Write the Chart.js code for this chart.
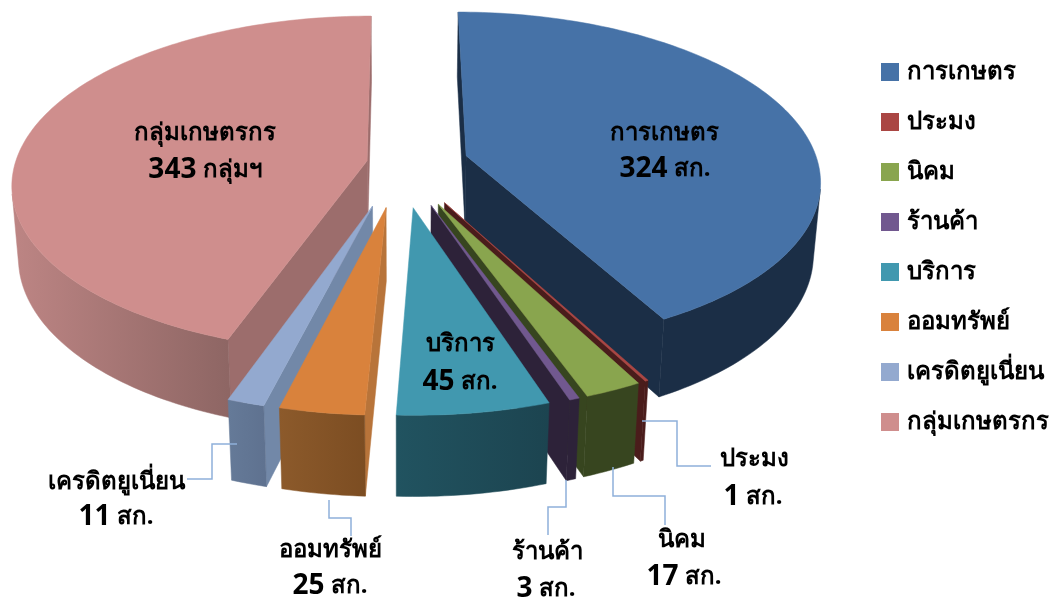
<!DOCTYPE html>
<html>
<head>
<meta charset="utf-8">
<style>
  html, body { margin: 0; padding: 0; background: #fff; }
  canvas { display: block; }
</style>
<script src="https://cdn.jsdelivr.net/npm/chart.js@4/dist/chart.umd.min.js"></script>
</head>
<body>
<canvas id="myChart" width="1055" height="598"></canvas>
<script>
// DATA
const categories = ["การเกษตร", "ประมง", "นิคม", "ร้านค้า", "บริการ", "ออมทรัพย์", "เครดิตยูเนี่ยน", "กลุ่มเกษตรกร"];
const values = [324, 1, 17, 3, 45, 25, 11, 343];
const units = ["สก.", "สก.", "สก.", "สก.", "สก.", "สก.", "สก.", "กลุ่มฯ"];

// how far each slice is pulled out, in pie radii
const explode = [0.195, 0.26, 0.26, 0.26, 0.26, 0.26, 0.26, 0.095];

// COLOURS
const topColors  = ['#4672a7', '#aa4643', '#89a54e', '#71588f', '#4198af', '#d9823c', '#93a9cf', '#cf8e8d'];
const sideColors = ['#1b2e46', '#4a1c1b', '#37451f', '#2d2239', '#1f4c59', '#b8743a', '#7288a8', '#9c6d6c'];
const rimFrom    = ['#1b2e46', '#4a1c1b', '#37451f', '#2d2239', '#215360', '#8c5a2b', '#657a98', '#bd8584'];
const rimTo      = ['#1b2e46', '#4a1c1b', '#37451f', '#2d2239', '#1c4450', '#7c4d22', '#5f7290', '#8e6664'];

// back to front
const drawOrder = [7, 0, 1, 2, 3, 6, 5, 4];

// label text positions and leader lines
const labelSpots = [
    { name: [664, 133], val: [665, 169] },
    { name: [754, 459], val: [753, 497], line: [[642, 421], [677, 421], [677, 466], [711, 466]] },
    { name: [682, 540], val: [684, 577], line: [[613, 467], [613, 496], [665, 496], [665, 525]] },
    { name: [547, 552], val: [546, 589], line: [[566, 480], [566, 507], [548, 507], [548, 535]] },
    { name: [460, 344], val: [460, 382] },
    { name: [330, 550], val: [330, 586], line: [[329, 500], [329, 518], [351, 518], [351, 536]] },
    { name: [116, 482], val: [116, 517], line: [[187, 479], [212, 479], [212, 444], [237, 444]] },
    { name: [205, 133], val: [205, 170] }
];

const THAI_FONT = '"Noto Sans", "Open Sans", "DejaVu Sans", sans-serif';

// 3D PROJECTION (radius = 1, tilted camera with perspective)
const cam = { x0: 400, y0: 163.5, f: 2260, dist: 6.42, sinT: 0.47, cosT: 0.886, depth: 0.2335 };

function project(X, Y, h) {
    const z = cam.dist - Y * cam.cosT + h * cam.sinT;
    return {
        x: cam.x0 + cam.f * X / z,
        y: cam.y0 + cam.f * (Y * cam.sinT + h * cam.cosT) / z
    };
}

function polygon(ctx, pts, fill) {
    ctx.beginPath();
    pts.forEach((p, i) => i ? ctx.lineTo(p.x, p.y) : ctx.moveTo(p.x, p.y));
    ctx.closePath();
    ctx.fillStyle = fill;
    ctx.strokeStyle = fill;
    ctx.lineWidth = 0.5;
    ctx.fill();
    ctx.stroke();
}

function signedArea(pts) {
    let a = 0;
    pts.forEach((p, i) => {
        const q = pts[(i + 1) % pts.length];
        a += p.x * q.y - q.x * p.y;
    });
    return a;
}

function drawSlice(ctx, arc, i) {
    const start = arc.startAngle, end = arc.endAngle, mid = (start + end) / 2;
    const ox = Math.cos(mid) * explode[i], oy = Math.sin(mid) * explode[i];
    const steps = Math.max(2, Math.ceil((end - start) / 0.02));

    const rim = [];
    for (let s = 0; s <= steps; s++) {
        const a = start + (end - start) * s / steps;
        rim.push({ X: ox + Math.cos(a), Y: oy + Math.sin(a) });
    }
    const topRim = rim.map(p => project(p.X, p.Y, 0));
    const lowRim = rim.map(p => project(p.X, p.Y, cam.depth));
    const apexTop = project(ox, oy, 0), apexLow = project(ox, oy, cam.depth);

    // radial walls, only when they face the viewer
    const wallA = [apexTop, topRim[0], lowRim[0], apexLow];
    const wallB = [apexTop, apexLow, lowRim[steps], topRim[steps]];
    if (signedArea(wallA) < 0) polygon(ctx, wallA, sideColors[i]);
    if (signedArea(wallB) < 0) polygon(ctx, wallB, sideColors[i]);

    // outer rim, the stretch facing the viewer as one shape so no seams show
    const upper = [], lower = [];
    for (let s = 0; s < steps; s++) {
        const strip = [topRim[s], lowRim[s], lowRim[s + 1], topRim[s + 1]];
        if (signedArea(strip) > 0) {
            if (!upper.length) { upper.push(topRim[s]); lower.push(lowRim[s]); }
            upper.push(topRim[s + 1]);
            lower.push(lowRim[s + 1]);
        }
    }
    if (upper.length) {
        const xs = upper.map(p => p.x);
        const grad = ctx.createLinearGradient(Math.min(...xs), 0, Math.max(...xs) + 0.01, 0);
        grad.addColorStop(0, rimFrom[i]);
        grad.addColorStop(1, rimTo[i]);
        polygon(ctx, upper.concat(lower.reverse()), grad);
    }

    // top face
    polygon(ctx, [apexTop].concat(topRim), topColors[i]);
}

const pie3d = {
    id: 'pie3d',
    beforeDatasetDraw(chart, args) {
        const ctx = chart.ctx;
        ctx.save();
        drawOrder.forEach(i => drawSlice(ctx, args.meta.data[i], i));
        ctx.restore();
        return false; // flat arcs replaced by the 3D ones
    }
};

// DATA LABELS
const sliceLabels = {
    id: 'sliceLabels',
    afterDraw(chart) {
        const ctx = chart.ctx;
        ctx.save();
        ctx.textBaseline = 'middle';
        ctx.fillStyle = '#000';
        labelSpots.forEach((spot, i) => {
            if (spot.line) {
                ctx.beginPath();
                spot.line.forEach((p, k) => k ? ctx.lineTo(p[0], p[1]) : ctx.moveTo(p[0], p[1]));
                ctx.strokeStyle = '#8fb0da';
                ctx.lineWidth = 1.5;
                ctx.stroke();
            }
            ctx.textAlign = 'center';
            ctx.font = 'bold 24px ' + THAI_FONT;
            ctx.fillText(categories[i], spot.name[0], spot.name[1]);

            // bold number and smaller unit side by side
            const num = String(values[i]), unit = ' ' + units[i];
            const numFont = 'bold 28px "Open Sans", sans-serif', unitFont = 'bold 24px ' + THAI_FONT;
            ctx.font = numFont;
            const nw = ctx.measureText(num).width;
            ctx.font = unitFont;
            const uw = ctx.measureText(unit).width;
            const left = spot.val[0] - (nw + uw) / 2;
            ctx.textAlign = 'left';
            ctx.font = numFont;
            ctx.fillText(num, left, spot.val[1]);
            ctx.font = unitFont;
            ctx.fillText(unit, left + nw, spot.val[1]);
        });
        ctx.restore();
    }
};

// CHART
new Chart(document.getElementById('myChart').getContext('2d'), {
    type: 'pie',
    data: {
        labels: categories,
        datasets: [{ data: values, backgroundColor: topColors, borderWidth: 0 }]
    },
    plugins: [pie3d, sliceLabels],
    options: {
        responsive: false,
        animation: false,
        layout: { padding: { top: 0, right: -4, bottom: 104, left: 0 } },
        plugins: {
            tooltip: { enabled: false },
            legend: {
                position: 'right',
                labels: {
                    usePointStyle: true,
                    pointStyle: 'rect',
                    boxWidth: 10,
                    boxHeight: 18,
                    padding: 26,
                    color: '#000',
                    font: { family: THAI_FONT, size: 24, weight: 'bold' }
                }
            }
        }
    }
});
</script>
</body>
</html>
